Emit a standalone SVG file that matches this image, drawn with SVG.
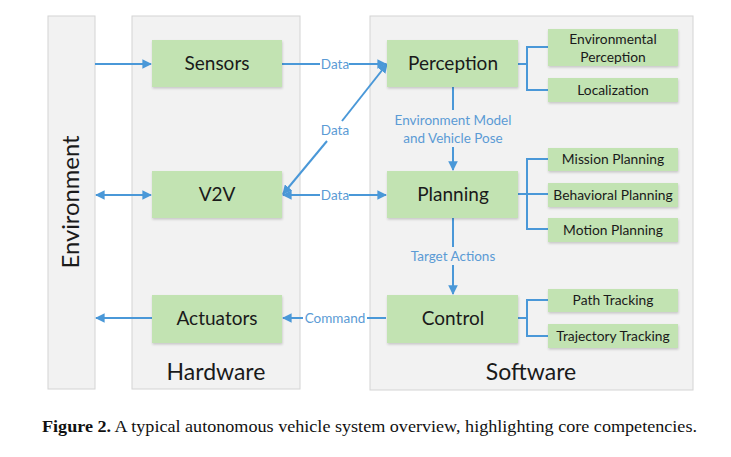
<svg xmlns="http://www.w3.org/2000/svg" width="731" height="457" viewBox="0 0 731 457">
<defs>
<style>
.panel{fill:#f2f2f2;stroke:#d4d4d4;stroke-width:1}
.box{fill:#c2e3b2;filter:url(#sh)}
.main{font-family:Lato,"Open Sans",sans-serif;font-size:19px;fill:#1a1a1a;text-anchor:middle}
.sub{font-family:Lato,"Open Sans",sans-serif;font-size:13.8px;fill:#1a1a1a;text-anchor:middle}
.big{font-family:Lato,"Open Sans",sans-serif;font-size:23px;fill:#1a1a1a;text-anchor:middle}
.lbl{font-family:Lato,"Open Sans",sans-serif;font-size:13.5px;fill:#5b9bd5;text-anchor:middle}
.ln{stroke:#4a98d8;stroke-width:2;fill:none}
.cap{font-family:"Liberation Serif","DejaVu Serif",serif;font-size:17.5px;fill:#111}
</style>
<filter id="sh" x="-10%" y="-10%" width="120%" height="130%">
<feDropShadow dx="0.5" dy="1.5" stdDeviation="0.8" flood-color="#000" flood-opacity="0.18"/>
</filter>
<marker id="ah" viewBox="0 0 10 10" refX="9" refY="5" markerWidth="4.8" markerHeight="4.8" orient="auto-start-reverse" markerUnits="strokeWidth">
<path d="M0,0 L10,5 L0,10 z" fill="#4a98d8"/>
</marker>
</defs>
<rect width="731" height="457" fill="#fff"/>

<g id="environment">
<rect class="panel" x="48" y="16" width="47" height="373"/>
<text class="big" transform="translate(79,202) rotate(-90)" textLength="133" lengthAdjust="spacingAndGlyphs">Environment</text>
</g>
<g id="hardware">
<rect class="panel" x="132" y="16" width="168" height="373"/>
<text class="big" x="216" y="380">Hardware</text>
</g>
<g id="software">
<rect class="panel" x="370" y="16" width="323" height="374"/>
<text class="big" x="531" y="380">Software</text>
</g>

<g id="connectors">
<line class="ln" x1="95" y1="64" x2="151" y2="64" marker-end="url(#ah)"/>
<line class="ln" x1="96" y1="195" x2="151" y2="195" marker-start="url(#ah)" marker-end="url(#ah)"/>
<line class="ln" x1="152" y1="318" x2="96" y2="318" marker-end="url(#ah)"/>
<line class="ln" x1="282" y1="64" x2="320" y2="64"/>
<line class="ln" x1="349" y1="64" x2="386" y2="64" marker-end="url(#ah)"/>
<line class="ln" x1="283" y1="195" x2="320" y2="195" marker-start="url(#ah)"/>
<line class="ln" x1="349" y1="195" x2="386" y2="195" marker-end="url(#ah)"/>
<line class="ln" x1="283" y1="194" x2="327" y2="141" marker-start="url(#ah)"/>
<line class="ln" x1="342" y1="121" x2="387" y2="64" marker-end="url(#ah)"/>
<line class="ln" x1="386" y1="318" x2="367" y2="318"/>
<line class="ln" x1="303" y1="318" x2="283" y2="318" marker-end="url(#ah)"/>
<line class="ln" x1="453" y1="87" x2="453" y2="110"/>
<line class="ln" x1="453" y1="147" x2="453" y2="170" marker-end="url(#ah)"/>
<line class="ln" x1="453" y1="218" x2="453" y2="247"/>
<line class="ln" x1="453" y1="265" x2="453" y2="294" marker-end="url(#ah)"/>
<path class="ln" d="M518,64 H527 M548,47 H527 V90 H548"/>
<path class="ln" d="M518,194 H548 M548,159 H527 V229 H548"/>
<path class="ln" d="M518,318 H527 M548,300 H527 V336 H548"/>
<text class="lbl" x="335" y="69">Data</text>
<text class="lbl" x="335" y="135">Data</text>
<text class="lbl" x="335" y="200">Data</text>
<text class="lbl" x="335" y="323">Command</text>
<text class="lbl" x="453" y="125">Environment Model</text>
<text class="lbl" x="453" y="143">and Vehicle Pose</text>
<text class="lbl" x="453" y="261">Target Actions</text>
</g>

<g id="sensors"><rect class="box" x="152" y="40" width="130" height="47"/><text class="main" x="217" y="70">Sensors</text></g>
<g id="v2v"><rect class="box" x="152" y="171" width="130" height="47"/><text class="main" x="217" y="201">V2V</text></g>
<g id="actuators"><rect class="box" x="152" y="295" width="130" height="48"/><text class="main" x="217" y="325">Actuators</text></g>
<g id="perception"><rect class="box" x="387" y="40" width="131" height="47"/><text class="main" x="453" y="70">Perception</text></g>
<g id="planning"><rect class="box" x="387" y="171" width="131" height="47"/><text class="main" x="453" y="201">Planning</text></g>
<g id="control"><rect class="box" x="387" y="295" width="131" height="48"/><text class="main" x="453" y="325">Control</text></g>

<g id="env-perception"><rect class="box" x="548" y="29" width="130" height="37"/><text class="sub" x="613" y="44">Environmental</text><text class="sub" x="613" y="62">Perception</text></g>
<g id="localization"><rect class="box" x="548" y="78" width="130" height="24"/><text class="sub" x="613" y="95">Localization</text></g>
<g id="mission-planning"><rect class="box" x="548" y="148" width="130" height="23"/><text class="sub" x="613" y="164">Mission Planning</text></g>
<g id="behavioral-planning"><rect class="box" x="548" y="183" width="130" height="24"/><text class="sub" x="613" y="200">Behavioral Planning</text></g>
<g id="motion-planning"><rect class="box" x="548" y="218" width="130" height="24"/><text class="sub" x="613" y="235">Motion Planning</text></g>
<g id="path-tracking"><rect class="box" x="548" y="289" width="130" height="23"/><text class="sub" x="613" y="305">Path Tracking</text></g>
<g id="trajectory-tracking"><rect class="box" x="548" y="324" width="130" height="24"/><text class="sub" x="613" y="341">Trajectory Tracking</text></g>

<text class="cap" x="42" y="432" textLength="655" lengthAdjust="spacingAndGlyphs"><tspan font-weight="bold">Figure 2.</tspan> A typical autonomous vehicle system overview, highlighting core competencies.</text>
</svg>
